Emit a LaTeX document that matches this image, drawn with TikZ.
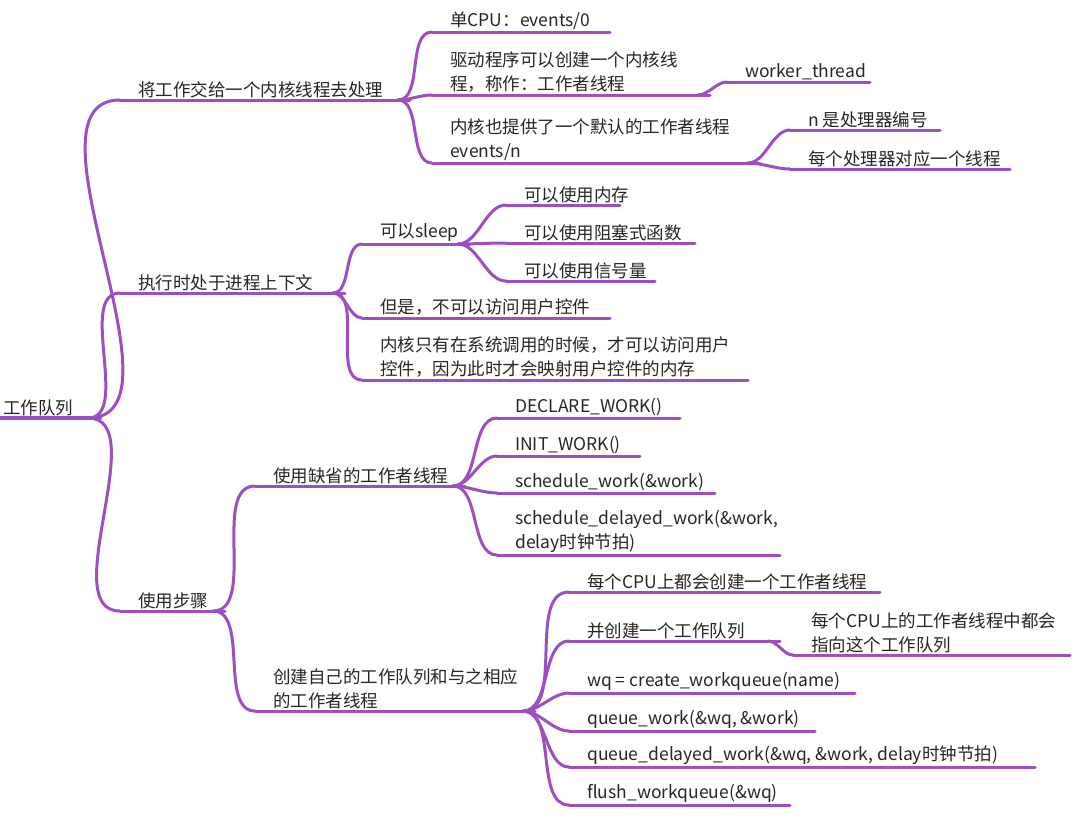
\documentclass[tikz,border=0pt]{standalone}
\usepackage{fontspec}
\setmainfont{Noto Sans CJK SC}
\definecolor{mmp}{HTML}{9B4FC0}
\newcommand\mmi[5]{\draw[br] (#2,#4) coordinate (#1s) -- (#3,#4) coordinate (#1e); \node[lbl] (#1) at (#2+18,#4-2) {#5};}
\newcommand\mmc[2]{\draw[br] (#1e) ++(-12,0) coordinate (#1#2j) to[out=0,in=180,looseness=0.85] (#2s);}
\begin{document}
\begin{tikzpicture}[x=1pt,y=-1pt,
  br/.style={draw=mmp,line width=3pt,line cap=round},
  lbl/.style={anchor=south west,inner sep=0pt,align=left,font=\fontsize{17.5}{24}\selectfont,text=black!85}]
\fill[white] (0,0) rectangle (1080,820);
\useasboundingbox (0,0) rectangle (1080,820);
\draw[br,line width=4pt] (0,418) coordinate (rs) -- (100,418) coordinate (re);
\node[lbl] (r) at (3,416) {工作队列};
\mmi{a}{120}{410}{100}{将工作交给一个内核线程去处理}
\mmi{b}{120}{345}{293}{执行时处于进程上下文}
\mmi{c}{120}{225}{611}{使用步骤}
\mmc{r}{a}\mmc{r}{b}\mmc{r}{c}
\mmi{a1}{432}{610}{32}{单CPU：events/0}
\mmi{a2}{432}{710}{95}{驱动程序可以创建一个内核线\\程，称作：工作者线程}
\mmi{a21}{727}{870}{82}{worker\_thread}
\mmi{a3}{432}{760}{163}{内核也提供了一个默认的工作者线程\\events/n}
\mmi{a31}{790}{940}{130}{n 是处理器编号}
\mmi{a32}{790}{1010}{169}{每个处理器对应一个线程}
\mmc{a}{a1}\mmc{a}{a2}\mmc{a}{a3}\mmc{a2}{a21}\mmc{a3}{a31}\mmc{a3}{a32}
\mmi{b1}{362}{470}{244}{可以sleep}
\mmi{b11}{506}{620}{205}{可以使用内存}
\mmi{b12}{506}{695}{243}{可以使用阻塞式函数}
\mmi{b13}{506}{655}{281}{可以使用信号量}
\mmi{b2}{362}{610}{318}{但是，不可以访问用户控件}
\mmi{b3}{362}{748}{380}{内核只有在系统调用的时候，才可以访问用户\\控件，因为此时才会映射用户控件的内存}
\mmc{b}{b1}\mmc{b}{b2}\mmc{b}{b3}\mmc{b1}{b11}\mmc{b1}{b12}\mmc{b1}{b13}
\mmi{c1}{255}{465}{486}{使用缺省的工作者线程}
\mmi{c11}{497}{680}{418}{DECLARE\_WORK()}
\mmi{c12}{497}{640}{456}{INIT\_WORK()}
\mmi{c13}{497}{715}{493}{schedule\_work(\&work)}
\mmi{c14}{497}{780}{555}{schedule\_delayed\_work(\&work,\\delay时钟节拍)}
\mmi{c2}{255}{535}{711}{创建自己的工作队列和与之相应\\的工作者线程}
\mmi{c21}{569}{880}{592}{每个CPU上都会创建一个工作者线程}
\mmi{c22}{569}{780}{641}{并创建一个工作队列}
\mmi{c221}{793}{1070}{655}{每个CPU上的工作者线程中都会\\指向这个工作队列}
\mmi{c23}{569}{855}{693}{wq = create\_workqueue(name)}
\mmi{c24}{569}{815}{731}{queue\_work(\&wq, \&work)}
\mmi{c25}{569}{1035}{767}{queue\_delayed\_work(\&wq, \&work, delay时钟节拍)}
\mmi{c26}{569}{790}{805}{flush\_workqueue(\&wq)}
\mmc{c}{c1}\mmc{c}{c2}\mmc{c1}{c11}\mmc{c1}{c12}\mmc{c1}{c13}\mmc{c1}{c14}
\mmc{c2}{c21}\mmc{c2}{c22}\mmc{c2}{c23}\mmc{c2}{c24}\mmc{c2}{c25}\mmc{c2}{c26}\mmc{c22}{c221}
\end{tikzpicture}
\end{document}
